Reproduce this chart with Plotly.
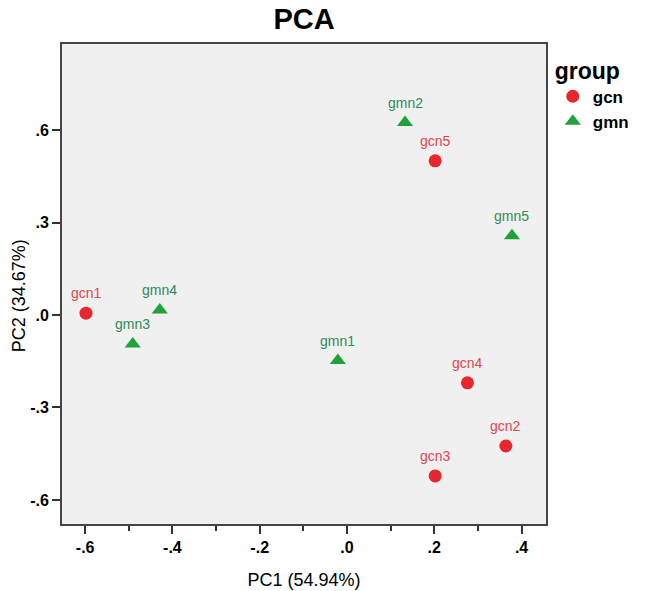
import plotly.graph_objects as go

# Data
gcn_names = ["gcn1", "gcn2", "gcn3", "gcn4", "gcn5"]
gcn_pc1 = [-0.598, 0.364, 0.202, 0.276, 0.202]
gcn_pc2 = [0.006, -0.425, -0.522, -0.220, 0.500]

gmn_names = ["gmn1", "gmn2", "gmn3", "gmn4", "gmn5"]
gmn_pc1 = [-0.021, 0.133, -0.491, -0.429, 0.378]
gmn_pc2 = [-0.148, 0.624, -0.094, 0.016, 0.257]

x_ticks = [-0.6, -0.4, -0.2, 0.0, 0.2, 0.4]
x_ticktext = ["-.6", "-.4", "-.2", ".0", ".2", ".4"]
x_minor = [-0.5, -0.3, -0.1, 0.1, 0.3]
y_ticks = [-0.6, -0.3, 0.0, 0.3, 0.6]
y_ticktext = ["-.6", "-.3", ".0", ".3", ".6"]

RED = "#E8262E"
RED_TXT = "#E0464E"
GREEN = "#1FA23A"
GREEN_TXT = "#2E8B57"
NARROW = "Liberation Sans Narrow, Arial Narrow, Arial"
SANS = "Arial, Liberation Sans"

W, H = 646, 591
ML, MR, MT, MB = 62, 85, 44, 67
PW, PH = W - ML - MR, H - MT - MB

fig = go.Figure()
fig.add_trace(go.Scatter(x=gcn_pc1, y=gcn_pc2, mode="markers", name="<b>gcn</b>",
                         marker=dict(symbol="circle", size=13, color=RED)))
fig.add_trace(go.Scatter(x=gmn_pc1, y=gmn_pc2, mode="markers", name="<b>gmn</b>",
                         marker=dict(symbol="triangle-up", size=14, color=GREEN)))

annotations = []
for names, xs, ys, col in [(gcn_names, gcn_pc1, gcn_pc2, RED_TXT),
                           (gmn_names, gmn_pc1, gmn_pc2, GREEN_TXT)]:
    for n, xv, yv in zip(names, xs, ys):
        annotations.append(dict(x=xv, y=yv, text=n, showarrow=False,
                                xref="x", yref="y", yanchor="middle", yshift=20,
                                font=dict(family=SANS, size=14, color=col)))

# y-axis title as a rotated annotation
annotations.append(dict(text="PC2 (34.67%)", textangle=-90, showarrow=False,
                        xref="paper", yref="paper",
                        x=(18 - ML) / PW, y=(H - MB - 296) / PH,
                        xanchor="center", yanchor="middle",
                        font=dict(family=SANS, size=18, color="black")))

fig.update_layout(
    width=W, height=H,
    margin=dict(l=ML, r=MR, t=MT, b=MB),
    paper_bgcolor="white",
    plot_bgcolor="#F0F0F0",
    title=dict(text="<b>PCA</b>", x=0.5, xref="paper", xanchor="center",
               y=1 - 19 / H, yref="container", yanchor="middle",
               font=dict(family=SANS, size=29, color="black")),
    annotations=annotations,
    legend=dict(title=dict(text="<b>group</b>", font=dict(family=SANS, size=23, color="black")),
                font=dict(family=SANS, size=17, color="black"),
                x=1.014, xanchor="left", y=0.99, yanchor="top",
                bgcolor="rgba(0,0,0,0)", tracegroupgap=0, itemwidth=30),
    showlegend=True,
)
fig.update_xaxes(
    range=[-0.653, 0.456], tickvals=x_ticks, ticktext=x_ticktext,
    ticks="outside", ticklen=8, tickwidth=1.5, tickcolor="#333",
    minor=dict(tickvals=x_minor, ticks="outside", ticklen=5, tickwidth=1.5, tickcolor="#333"),
    showgrid=False, zeroline=False, automargin=False,
    showline=True, mirror=True, linecolor="#444", linewidth=2,
    tickfont=dict(family=NARROW, size=16, color="black", weight="bold"),
    title=dict(text="PC1 (54.94%)", font=dict(family=SANS, size=18, color="black"), standoff=18),
)
fig.update_yaxes(
    range=[-0.678, 0.879], tickvals=y_ticks, ticktext=y_ticktext,
    ticks="outside", ticklen=8, tickwidth=1.5, tickcolor="#333",
    showgrid=False, zeroline=False, automargin=False,
    showline=True, mirror=True, linecolor="#444", linewidth=2,
    tickfont=dict(family=NARROW, size=16, color="black", weight="bold"),
)

fig.write_html("out.html", config={"displayModeBar": False},
               post_script="document.body.style.margin='0';")
